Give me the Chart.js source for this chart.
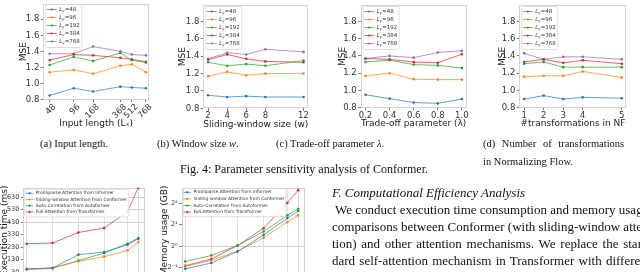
<!DOCTYPE html>
<html>
<head>
<meta charset="utf-8">
<script src="https://cdn.jsdelivr.net/npm/chart.js@4.4.1/dist/chart.umd.min.js"></script>
<style>
html, body { margin: 0; padding: 0; background: #fff; }
body { width: 640px; height: 272px; overflow: hidden; position: relative;
       font-family: "Liberation Serif", "Times New Roman", serif; color: #111; }
canvas { position: absolute; }
.t { position: absolute; white-space: nowrap; line-height: 1; }
</style>
</head>
<body>
<canvas id="cA" width="160" height="136" style="left:0;top:0"></canvas>
<canvas id="cB" width="160" height="136" style="left:160px;top:0"></canvas>
<canvas id="cC" width="160" height="136" style="left:320px;top:0"></canvas>
<canvas id="cD" width="160" height="136" style="left:480px;top:0"></canvas>
<canvas id="cTime" width="165" height="110" style="left:-5px;top:175px"></canvas>
<canvas id="cMem" width="165" height="110" style="left:150px;top:175px"></canvas>

<div class="t" style="left:40px;top:139px;font-size:10.5px">(a) Input length.</div>
<div class="t" style="left:157px;top:139px;font-size:10.5px">(b) Window size <i>w</i>.</div>
<div class="t" style="left:276px;top:139px;font-size:10.5px">(c) Trade-off parameter <i>λ</i>.</div>
<div class="t" style="left:483px;top:139px;font-size:10.5px;word-spacing:4px">(d) Number of transformations</div>
<div class="t" style="left:483px;top:157px;font-size:10.5px">in Normalizing Flow.</div>
<div class="t" style="left:180px;top:163px;font-size:12px">Fig. 4: Parameter sensitivity analysis of Conformer.</div>

<div class="t" style="left:332px;top:186px;font-size:13px"><i>F. Computational Efficiency Analysis</i></div>
<div class="t" style="left:335px;top:203px;font-size:13px">We conduct execution time consumption and memory usage</div>
<div class="t" style="left:332px;top:220px;font-size:13px">comparisons between Conformer (with sliding-window atten-</div>
<div class="t" style="left:332px;top:237px;font-size:13px;word-spacing:1.5px">tion) and other attention mechanisms. We replace the stan-</div>
<div class="t" style="left:332px;top:254px;font-size:13px;word-spacing:1px">dard self-attention mechanism in Transformer with different</div>
<div class="t" style="left:332px;top:271px;font-size:13px">variants and carry out the prediction with the corresponding</div>

<script>
// Fig. 4 sensitivity data, one row per prediction length L_y
const horizons = [48, 96, 192, 384, 768];
const mseTicks = [0.8, 1.0, 1.2, 1.4, 1.6, 1.8];

const inputLen = [48, 96, 168, 368, 512, 768];
const mseInput = [
  [0.85, 0.94, 0.90, 0.96, 0.95, 0.94],
  [1.14, 1.17, 1.12, 1.22, 1.24, 1.14],
  [1.23, 1.33, 1.28, 1.38, 1.29, 1.26],
  [1.29, 1.36, 1.35, 1.32, 1.30, 1.27],
  [1.37, 1.37, 1.46, 1.40, 1.36, 1.35]
];

const windowSize = [2, 4, 6, 8, 12];
const mseWindow = [
  [0.95, 0.93, 0.94, 0.93, 0.93],
  [1.17, 1.22, 1.18, 1.20, 1.20],
  [1.33, 1.29, 1.31, 1.29, 1.35],
  [1.36, 1.42, 1.37, 1.34, 1.33],
  [1.37, 1.44, 1.42, 1.48, 1.45]
];

const lambdas = [0.2, 0.4, 0.6, 0.8, 1.0];
const mseLambda = [
  [0.95, 0.905, 0.86, 0.85, 0.90],
  [1.17, 1.20, 1.13, 1.125, 1.125],
  [1.33, 1.35, 1.30, 1.29, 1.26],
  [1.37, 1.36, 1.33, 1.32, 1.42],
  [1.37, 1.40, 1.38, 1.44, 1.46]
];

const nfSteps = [1, 2, 3, 4, 6];
const nfTickText = ['1', '2', '3', '4', '5'];
const mseNF = [
  [0.90, 0.94, 0.90, 0.92, 0.91],
  [1.16, 1.17, 1.17, 1.22, 1.15],
  [1.31, 1.33, 1.27, 1.27, 1.27],
  [1.33, 1.36, 1.32, 1.35, 1.31],
  [1.43, 1.36, 1.39, 1.39, 1.36]
];

// efficiency plots (bottom)
const seqLen = [48, 96, 192, 384, 720, 960];
const attnNames = ['ProbSparse Attention from Informer', 'Sliding-window Attention from Conformer',
                   'Auto-Correlation from Autoformer', 'Full-Attention from Transformer'];
const timeTicks = [30, 130, 230, 330, 430, 530, 630];
const execTime = [
  [55, 63, 170, 191, 250, 298],
  [50, 61, 117, 154, 204, 271],
  [55, 63, 122, 183, 258, 303],
  [258, 263, 348, 383, 516, 707]
];
const memTicks = [0.5, 1, 2, 4];
const memTickText = ['2\u207b\u00b9', '2\u2070', '2\u00b9', '2\u00b2'];
const memUsage = [
  [0.48, 0.58, 0.84, 1.44, 2.48, 3.12],
  [0.52, 0.63, 0.85, 1.31, 2.18, 2.71],
  [0.61, 0.74, 1.02, 1.61, 2.71, 3.36],
  [0.53, 0.66, 1.02, 1.79, 4.06, 6.10]
];

const tab = ['31,119,180', '255,127,14', '44,160,44', '214,39,40', '148,103,189'];
const FAM = 'DejaVu Sans';
Chart.defaults.font.family = FAM;

// light frame round the plot area
const frameBox = {
  id: 'frameBox',
  beforeDatasetsDraw(chart, args, o) {
    const a = chart.chartArea, c = chart.ctx;
    c.save();
    c.strokeStyle = o.color || '#ccc';
    c.lineWidth = 1;
    c.strokeRect(Math.round(a.left) + 0.5, Math.round(a.top) + 0.5,
                 Math.round(a.right - a.left) - 1, Math.round(a.bottom - a.top) - 1);
    c.restore();
  }
};

// matplotlib-ish legend box inside the axes
const boxLegend = {
  id: 'boxLegend',
  afterDatasetsDraw(chart, args, o) {
    const c = chart.ctx, a = chart.chartArea, sets = chart.data.datasets;
    const s = o.size;
    const norm = s + 'px "' + FAM + '"';
    const ital = 'italic ' + s + 'px "' + FAM + '"';
    const small = 'italic ' + (s * 0.7) + 'px "' + FAM + '"';
    function label(d, x, y, draw) {
      let w = 0;
      let txt = d.label;
      if (o.sub) {
        c.font = ital; if (draw) c.fillText('L', x, y); w += c.measureText('L').width;
        c.font = small; if (draw) c.fillText('y', x + w, y + s * 0.25); w += c.measureText('y').width;
        txt = txt.slice(2);
      }
      c.font = norm; if (draw) c.fillText(txt, x + w, y); w += c.measureText(txt).width;
      return w;
    }
    c.save();
    c.textBaseline = 'middle';
    let tw = 0;
    sets.forEach(d => { tw = Math.max(tw, label(d, 0, 0, false)); });
    const x0 = a.left + o.dx, y0 = a.top + o.dy;
    const bw = o.pad + o.handle + o.gap + tw + o.pad;
    const bh = sets.length * o.row + 2 * o.pad;
    c.beginPath();
    c.roundRect(x0 + 0.5, y0 + 0.5, bw, bh, 1.5);
    c.fillStyle = 'rgba(255,255,255,0.85)';
    c.fill();
    c.strokeStyle = '#d6d6d6';
    c.lineWidth = 0.8;
    c.stroke();
    sets.forEach((d, i) => {
      const y = y0 + o.pad + o.row * (i + 0.5);
      const hx = x0 + o.pad;
      c.strokeStyle = d.borderColor;
      c.lineWidth = 1;
      c.beginPath(); c.moveTo(hx, y); c.lineTo(hx + o.handle, y); c.stroke();
      c.fillStyle = d.pointBackgroundColor;
      c.beginPath(); c.arc(hx + o.handle / 2, y, 1.1, 0, Math.PI * 2); c.fill();
      c.fillStyle = '#333';
      label(d, hx + o.handle + o.gap, y, true);
    });
    c.restore();
  }
};

function series(xs, rows, names) {
  return rows.map((r, i) => ({
    label: names[i],
    data: r.map((v, j) => ({ x: xs[j], y: v })),
    borderColor: 'rgba(' + tab[i] + ',0.7)',
    pointBackgroundColor: 'rgb(' + tab[i] + ')',
    pointBorderWidth: 0,
    pointRadius: 1.3,
    borderWidth: 1,
    tension: 0
  }));
}

// f: frame and title centres in canvas pixels
function mseChart(id, xs, rows, f) {
  const W = 160, H = 136, half = 5.4;
  return new Chart(document.getElementById(id), {
    type: 'line',
    data: { datasets: series(xs, rows, horizons.map(h => 'Ly=' + h)) },
    options: {
      responsive: false, animation: false, devicePixelRatio: 1,
      layout: { padding: { left: f.yTitle - half, right: W - f.right, top: f.top, bottom: H - f.xTitle - half } },
      plugins: {
        legend: { display: false }, tooltip: { enabled: false },
        frameBox: { color: '#d2d2d2' },
        boxLegend: { size: 5.5, sub: true, dx: 2, dy: f.legDy, pad: 1.5, row: 8, handle: 10, gap: 2.5 }
      },
      scales: {
        x: {
          type: f.xType || 'linear', min: f.xMin, max: f.xMax, bounds: 'data',
          afterBuildTicks: s => { s.ticks = xs.map(v => ({ value: v })); },
          ticks: { autoSkip: false, font: { size: 8.5 }, color: '#333', padding: 0,
                   minRotation: f.rot || 0, maxRotation: f.rot || 0, labelOffset: f.rot ? 5 : 0,
                   callback: f.xLabel },
          grid: { drawOnChartArea: false, drawTicks: true, tickLength: 2.5, color: '#777' },
          border: { display: false },
          title: { display: true, text: f.xText, font: { size: 9 }, color: '#222', padding: 0 },
          afterFit: s => { s.height = f.xTitle + half - f.bottom; s.paddingLeft = 0; s.paddingRight = 0; }
        },
        y: {
          min: 0.8, max: 1.99, bounds: 'data',
          afterBuildTicks: s => { s.ticks = mseTicks.map(v => ({ value: v })); },
          ticks: { font: { size: 8.5 }, color: '#333', padding: 1.5, callback: v => v.toFixed(1) },
          grid: { drawOnChartArea: false, drawTicks: true, tickLength: 2.5, color: '#777' },
          border: { display: false },
          title: { display: true, text: 'MSE', font: { size: 9 }, color: '#222', padding: 0 },
          afterFit: s => { s.width = f.left - (f.yTitle - half); s.paddingTop = 0; s.paddingBottom = 0; }
        }
      }
    },
    plugins: [frameBox, boxLegend]
  });
}

mseChart('cA', inputLen, mseInput, {
  left: 43.3, right: 149, top: 0.5, bottom: 99.5, yTitle: 24, xTitle: 124, legDy: 0,
  xType: 'logarithmic', xMin: 40, xMax: 840, rot: 45,
  xLabel: v => String(v), xText: 'Input length (L\u2093)'
});
mseChart('cB', windowSize, mseWindow, {
  left: 43.3, right: 148.3, top: 5, bottom: 108.3, yTitle: 23, xTitle: 125, legDy: 1,
  xMin: 1.5, xMax: 12.5, xLabel: v => String(v), xText: 'Sliding-window size (w)'
});
mseChart('cC', lambdas, mseLambda, {
  left: 40.7, right: 146.7, top: 5, bottom: 107.7, yTitle: 23, xTitle: 124, legDy: 1,
  xMin: 0.16, xMax: 1.04, xLabel: v => v.toFixed(1), xText: 'Trade-off parameter (\u03bb)'
});
mseChart('cD', nfSteps, mseNF, {
  left: 39.3, right: 146.7, top: 5, bottom: 107.7, yTitle: 23, xTitle: 124, legDy: 1,
  xMin: 0.75, xMax: 6.25, xLabel: (v, i) => nfTickText[i], xText: '#transformations in NF'
});

function attnChart(id, rows, f) {
  const W = 165, H = 110, half = 5.4;
  return new Chart(document.getElementById(id), {
    type: 'line',
    data: { datasets: series(seqLen, rows, attnNames) },
    options: {
      responsive: false, animation: false, devicePixelRatio: 1,
      layout: { padding: { left: f.yTitle - half, right: W - f.right, top: f.top, bottom: 0 } },
      plugins: {
        legend: { display: false }, tooltip: { enabled: false },
        frameBox: { color: '#d2d2d2' },
        boxLegend: { size: 4.4, sub: false, dx: 1, dy: f.legDy, pad: f.legPad, row: f.legRow, handle: 7.5, gap: 2.5 }
      },
      scales: {
        x: {
          type: 'logarithmic', min: 43.8, max: 1150, bounds: 'data',
          afterBuildTicks: s => { s.ticks = seqLen.map(v => ({ value: v })); },
          ticks: { display: false },
          grid: { drawTicks: false, color: '#dedede' },
          border: { display: false },
          afterFit: s => { s.height = H - f.bottom; s.paddingLeft = 0; s.paddingRight = 0; }
        },
        y: {
          type: f.yType, min: f.yMin, max: f.yMax, bounds: 'data',
          afterBuildTicks: s => { s.ticks = f.yTicks.map(v => ({ value: v })); },
          ticks: { font: { size: 6.5 }, color: '#333', padding: 1.5, callback: f.yLabel },
          grid: { drawTicks: true, tickLength: 2.5,
                  color: c => (c.type === 'tick' && f.yGrid(c.tick.value)) ? '#cfcfcf' : 'rgba(0,0,0,0)',
                  tickColor: '#777' },
          border: { display: false },
          title: { display: true, text: f.yText, font: { size: 9 }, color: '#222', padding: 0 },
          afterFit: s => { s.width = f.left - (f.yTitle - half); s.paddingTop = 0; s.paddingBottom = 0; }
        }
      }
    },
    plugins: [frameBox, boxLegend]
  });
}

attnChart('cTime', execTime, {
  left: 28.3, right: 150, top: 12.7, bottom: 99, yTitle: 10, legDy: 1, legPad: 1.5, legRow: 6.2,
  yType: 'linear', yMin: 15, yMax: 707, yTicks: timeTicks, yLabel: v => String(v),
  yGrid: v => v >= 430, yText: 'Execution time (ms)'
});
attnChart('cMem', memUsage, {
  left: 31.7, right: 155, top: 12.7, bottom: 98, yTitle: 15, legDy: 0.5, legPad: 0.8, legRow: 6.6,
  yType: 'logarithmic', yMin: 0.42, yMax: 6.63, yTicks: memTicks,
  yLabel: (v, i) => memTickText[i], yGrid: v => v === 1, yText: 'Memory usage (GB)'
});
</script>
</body>
</html>
